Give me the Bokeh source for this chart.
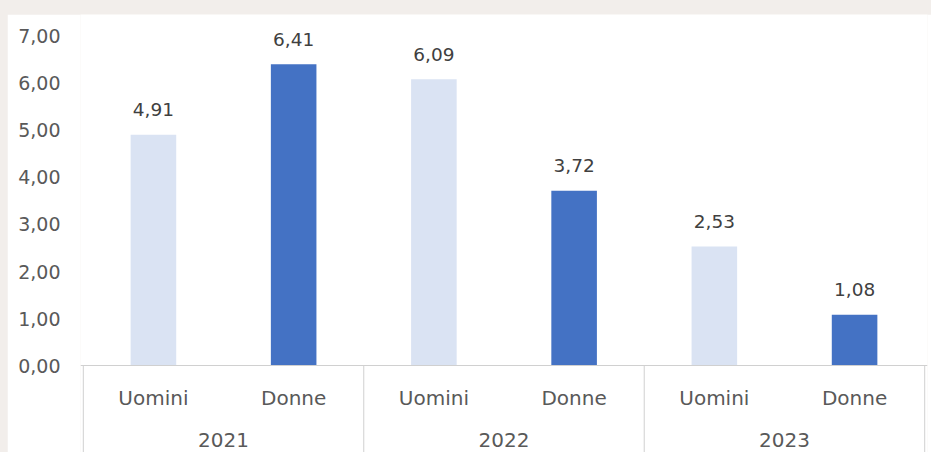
from bokeh.plotting import figure
from bokeh.models import FactorRange, CategoricalAxis, FixedTicker, ColumnDataSource, Range1d
from bokeh.core.properties import value
from bokeh.embed import file_html
from bokeh.resources import INLINE

# ---- data ----
years = ["2021", "2022", "2023"]
genders = ["Uomini", "Donne"]
values = [4.91, 6.41, 6.09, 3.72, 2.53, 1.08]
gender_colors = {"Uomini": "#dae3f3", "Donne": "#4472c4"}
y_ticks = [0, 1, 2, 3, 4, 5, 6, 7]
y_tick_labels = ["0,00", "1,00", "2,00", "3,00", "4,00", "5,00", "6,00", "7,00"]

factors = [(y, g) for y in years for g in genders]
labels = [f"{v:.2f}".replace(".", ",") for v in values]
colors = [gender_colors[g] for _, g in factors]

FONT = "DejaVu Sans"
GRAY = "#595959"
LINE = "#d0d0d0"

source = ColumnDataSource(dict(x=factors, top=values, color=colors, label=labels))

x_range = FactorRange(*factors, factor_padding=0, group_padding=0,
                      range_padding=0.02, range_padding_units="absolute")

p = figure(x_range=x_range, y_range=Range1d(-1.851, 7.468),
           width=924, height=438, output_backend="svg", toolbar_location=None,
           min_border_left=73, min_border_right=4, min_border_top=0, min_border_bottom=0,
           background_fill_color="white", border_fill_color="white")
p.outline_line_color = None
p.xgrid.visible = False
p.ygrid.visible = False

p.vbar(x="x", top="top", bottom=0, width=0.325, color="color", line_color=None, source=source)

p.text(x="x", y="top", text="label", source=source, text_align="center",
       text_baseline="alphabetic", y_offset=-25, text_font=value(FONT),
       text_font_size="18.5px", text_color="#404040")

# group boundary lines below the axis
sep = ColumnDataSource(dict(
    x=[("2021", "Uomini", -0.5), ("2022", "Uomini", -0.5),
       ("2023", "Uomini", -0.5), ("2023", "Donne", 0.5)],
))
p.segment(x0="x", y0=0, x1="x", y1=-3, source=sep, line_color=LINE, line_width=1)

# main category axis at y=0
xa = p.below[0]
xa.fixed_location = 0
xa.axis_line_color = LINE
xa.major_tick_line_color = None
xa.minor_tick_line_color = None
xa.separator_line_color = None
xa.major_label_standoff = 14
xa.major_label_text_font = FONT
xa.major_label_text_font_size = "20px"
xa.major_label_text_color = GRAY
xa.group_text_color = None

# year axis
p.extra_x_ranges = {"years": FactorRange(*years, factor_padding=0, range_padding=0.01,
                                         range_padding_units="absolute")}
ya_x = CategoricalAxis(x_range_name="years", fixed_location=-1.015,
                       axis_line_color=None, major_tick_line_color=None,
                       minor_tick_line_color=None, major_label_standoff=14,
                       major_label_text_font=FONT, major_label_text_font_size="20px",
                       major_label_text_color=GRAY)
p.add_layout(ya_x, "below")

# y axis
ya = p.yaxis[0]
ya.ticker = FixedTicker(ticks=y_ticks)
ya.major_label_overrides = {t: l for t, l in zip(y_ticks, y_tick_labels)}
ya.axis_line_color = None
ya.major_tick_line_color = None
ya.minor_tick_line_color = None
ya.major_label_standoff = 14
ya.major_label_text_font = FONT
ya.major_label_text_font_size = "19px"
ya.major_label_text_color = GRAY

html = file_html(p, INLINE)
html = html.replace("</head>",
    "<style>html,body{margin:0 !important;padding:0 !important;background:#f2eeeb !important;"
    "overflow:hidden !important;}body{padding:14px 0 0 7px !important;}</style></head>", 1)
open("out.html", "w").write(html)
